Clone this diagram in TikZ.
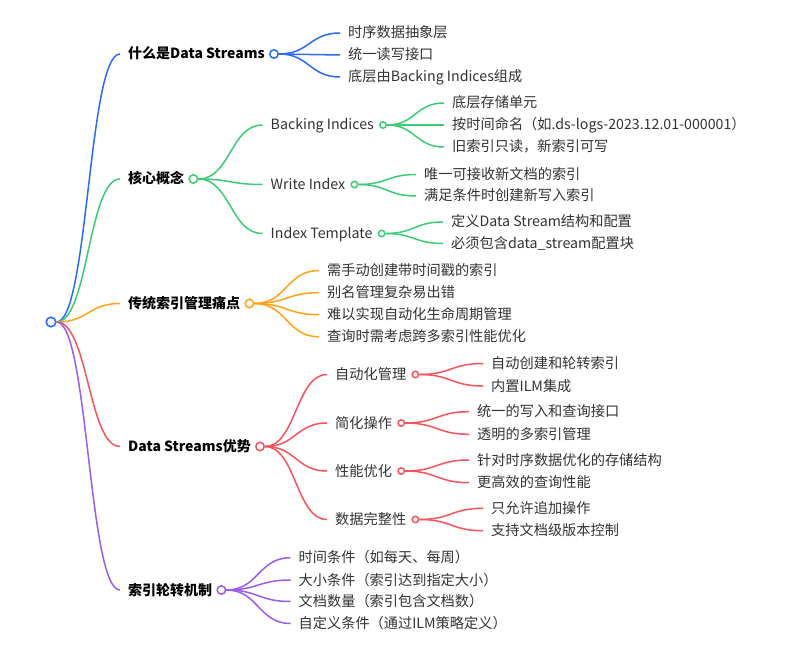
\documentclass[tikz,border=0pt]{standalone}
\usepackage{fontspec}
\setmainfont{Noto Sans CJK SC}
\usetikzlibrary{calc}
\definecolor{cblue}{HTML}{2B6CF3}
\definecolor{cgreen}{HTML}{3CCB74}
\definecolor{corange}{HTML}{FFA31A}
\definecolor{cred}{HTML}{F4545C}
\definecolor{cpurple}{HTML}{9B5CEC}
\definecolor{txtgray}{HTML}{333333}
\tikzset{
  txt/.style={anchor=west, inner sep=0pt, text height=12pt, text depth=2pt,
    font=\fontsize{14.2}{16}\selectfont, text=txtgray},
  l1/.style={txt, font=\fontsize{14}{16}\selectfont\bfseries, text=black},
  dot/.style={circle, draw=#1, fill=white, line width=1.5pt, inner sep=0pt, minimum size=6.4pt},
  bigdot/.style={dot=#1, minimum size=8.4pt},
  rootdot/.style={dot=#1, minimum size=9.6pt, line width=1.6pt},
  lnk/.style={draw=#1, line width=1.5pt},
}
\newcommand\kid[5]{%
  \node[#2] (#1) at (#3,#4) {#5};
  \coordinate (#1-in) at ($(#1.west)+(-8,0)$);}
\newcommand\dotof[2]{%
  \node[#2] (#1-c) at ($(#1.east)+(9,0)$) {};}
\newcommand\link[3]{%
  \coordinate (mm) at ($(#2)!0.5!(#3)$);
  \draw[lnk=#1] (#2) .. controls (mm |- #2) and (mm |- #3) .. (#3);}
\begin{document}
\begin{tikzpicture}[x=1pt,y=-1pt]
\useasboundingbox[fill=white] (0,0) rectangle (790,652);
% root
\node[rootdot=cblue] (root) at (51,322) {};
% level 1
\kid{A}{l1}{128}{54}{什么是Data Streams}
\kid{B}{l1}{128}{179}{核心概念}
\kid{C}{l1}{128}{303.5}{传统索引管理痛点}
\kid{D}{l1}{128}{446.5}{Data Streams优势}
\kid{E}{l1}{128}{590}{索引轮转机制}
\dotof{A}{bigdot=cblue}
\dotof{B}{bigdot=cgreen}
\dotof{C}{bigdot=corange}
\dotof{D}{bigdot=cred}
\dotof{E}{bigdot=cpurple}
\link{cblue}{root.east}{A-in}
\link{cgreen}{root.east}{B-in}
\link{corange}{root.east}{C-in}
\link{cred}{root.east}{D-in}
\link{cpurple}{root.east}{E-in}
% A leaves
\kid{A1}{txt}{348}{33}{时序数据抽象层}
\kid{A2}{txt}{348}{55}{统一读写接口}
\kid{A3}{txt}{348}{77}{底层由Backing Indices组成}
\link{cblue}{A-c.east}{A1-in}
\link{cblue}{A-c.east}{A2-in}
\link{cblue}{A-c.east}{A3-in}
% B children
\kid{B1}{txt}{270.5}{125}{Backing Indices}
\kid{B2}{txt}{270.5}{184.5}{Write Index}
\kid{B3}{txt}{270.5}{233.5}{Index Template}
\dotof{B1}{dot=cgreen}
\dotof{B2}{dot=cgreen}
\dotof{B3}{dot=cgreen}
\link{cgreen}{B-c.east}{B1-in}
\link{cgreen}{B-c.east}{B2-in}
\link{cgreen}{B-c.east}{B3-in}
\kid{B11}{txt}{452}{103}{底层存储单元}
\kid{B12}{txt}{452}{125}{按时间命名（如.ds-logs-2023.12.01-000001）}
\kid{B13}{txt}{452}{147}{旧索引只读，新索引可写}
\link{cgreen}{B1-c.east}{B11-in}
\link{cgreen}{B1-c.east}{B12-in}
\link{cgreen}{B1-c.east}{B13-in}
\kid{B21}{txt}{424}{174.5}{唯一可接收新文档的索引}
\kid{B22}{txt}{424}{196}{满足条件时创建新写入索引}
\link{cgreen}{B2-c.east}{B21-in}
\link{cgreen}{B2-c.east}{B22-in}
\kid{B31}{txt}{451}{222}{定义Data Stream结构和配置}
\kid{B32}{txt}{451}{243.5}{必须包含data\_stream配置块}
\link{cgreen}{B3-c.east}{B31-in}
\link{cgreen}{B3-c.east}{B32-in}
% C leaves
\kid{C1}{txt}{327}{270.5}{需手动创建带时间戳的索引}
\kid{C2}{txt}{327}{292.7}{别名管理复杂易出错}
\kid{C3}{txt}{327}{314.7}{难以实现自动化生命周期管理}
\kid{C4}{txt}{327}{336.8}{查询时需考虑跨多索引性能优化}
\link{corange}{C-c.east}{C1-in}
\link{corange}{C-c.east}{C2-in}
\link{corange}{C-c.east}{C3-in}
\link{corange}{C-c.east}{C4-in}
% D children
\kid{D1}{txt}{335}{374.5}{自动化管理}
\kid{D2}{txt}{335}{423}{简化操作}
\kid{D3}{txt}{335}{471}{性能优化}
\kid{D4}{txt}{335}{519.5}{数据完整性}
\dotof{D1}{dot=cred}
\dotof{D2}{dot=cred}
\dotof{D3}{dot=cred}
\dotof{D4}{dot=cred}
\link{cred}{D-c.east}{D1-in}
\link{cred}{D-c.east}{D2-in}
\link{cred}{D-c.east}{D3-in}
\link{cred}{D-c.east}{D4-in}
\kid{D11}{txt}{491}{363.5}{自动创建和轮转索引}
\kid{D12}{txt}{491}{386}{内置ILM集成}
\link{cred}{D1-c.east}{D11-in}
\link{cred}{D1-c.east}{D12-in}
\kid{D21}{txt}{477}{411.7}{统一的写入和查询接口}
\kid{D22}{txt}{477}{434.3}{透明的多索引管理}
\link{cred}{D2-c.east}{D21-in}
\link{cred}{D2-c.east}{D22-in}
\kid{D31}{txt}{477}{460}{针对时序数据优化的存储结构}
\kid{D32}{txt}{477}{482.7}{更高效的查询性能}
\link{cred}{D3-c.east}{D31-in}
\link{cred}{D3-c.east}{D32-in}
\kid{D41}{txt}{491}{508.3}{只允许追加操作}
\kid{D42}{txt}{491}{530.7}{支持文档级版本控制}
\link{cred}{D4-c.east}{D41-in}
\link{cred}{D4-c.east}{D42-in}
% E leaves
\kid{E1}{txt}{298.5}{557.7}{时间条件（如每天、每周）}
\kid{E2}{txt}{298.5}{580}{大小条件（索引达到指定大小）}
\kid{E3}{txt}{298.5}{601.5}{文档数量（索引包含文档数）}
\kid{E4}{txt}{298.5}{623.5}{自定义条件（通过ILM策略定义）}
\link{cpurple}{E-c.east}{E1-in}
\link{cpurple}{E-c.east}{E2-in}
\link{cpurple}{E-c.east}{E3-in}
\link{cpurple}{E-c.east}{E4-in}
\end{tikzpicture}
\end{document}
